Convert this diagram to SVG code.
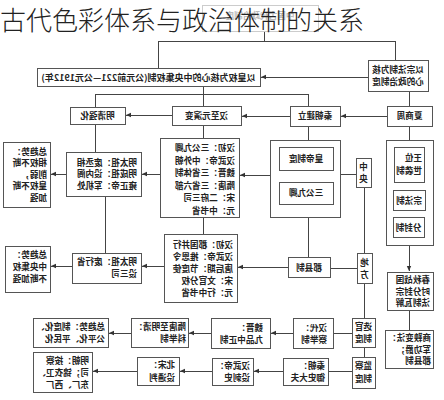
<svg xmlns="http://www.w3.org/2000/svg" width="444" height="400" viewBox="0 0 444 400">
<style>
.b{fill:#fff;stroke:#555;stroke-width:1}
.l{fill:none;stroke:#444;stroke-width:1}
.a{fill:none;stroke:#444;stroke-width:1;marker-end:url(#ah)}
.t{font-family:"Noto Sans CJK SC","Noto Sans CJK TC",sans-serif;font-size:8.6px;fill:#222;font-weight:bold}
.c{text-anchor:middle}
.title{font-family:"Noto Sans CJK SC","Noto Sans CJK TC",sans-serif;font-size:26px;fill:#222;font-weight:300}
</style>
<defs>
<marker id="ah" markerUnits="userSpaceOnUse" markerWidth="6" markerHeight="6" refX="5" refY="3" orient="auto">
<path d="M0,0.8 L5,3 L0,5.2 Z" fill="#333"/>
</marker>
</defs>
<rect width="444" height="400" fill="#fff"/>
<g transform="matrix(-1 0 0 1 444 0)" shape-rendering="crispEdges">
<g id="connectors">
<path class="l" d="M180,31 V41 M286,41 H49 M286,41 V68 M49,41 V60"/>
<path class="a" d="M76,77 H183"/>
<path class="l" d="M241,86 V106 M349,94 H136 M349,94 V107 M136,94 V106 M35,91 V106"/>
<path class="a" d="M57,116 H103"/>
<path class="a" d="M154,116 H202"/>
<path class="a" d="M272,115 H318"/>
<path class="l" d="M35,126 V140 M136,126 V140 M241,125 V138 M349,124 V152"/>
<path class="a" d="M174,175 H204"/>
<path class="a" d="M284,174 H302"/>
<path class="a" d="M378,174 H393"/>
<path class="l" d="M104,174 H88 M80,187 V253 M80,283 V318 M80,347 V357 M87,268 H114 M136,217 V257 M241,217 V234 M339,196 V253"/>
<path class="a" d="M156,267 H206"/>
<path class="a" d="M280,266 H302"/>
<path class="a" d="M372,266 H393"/>
<path class="l" d="M92,333 H111"/>
<path class="a" d="M151,333 H173"/>
<path class="a" d="M233,333 H255"/>
<path class="a" d="M313,333 H335"/>
<path class="l" d="M92,371 H116"/>
<path class="a" d="M161,371 H190"/>
<path class="a" d="M232,371 H264"/>
<path class="a" d="M307,371 H351"/>
<path class="a" d="M35,245 V271"/>
<path class="l" d="M35,310 V330"/>
</g>
<g id="n-top"><rect x="126" y="5" width="116" height="26" fill="#fff" stroke="#ccc"/><text class="t c" x="184" y="19" style="fill:#bbb">中国古代政治制度</text></g>
<g id="n-central"><rect class="b" x="184" y="68" width="223" height="18"/><text class="t c" x="295.5" y="80.5" style="font-size:9px">以皇权为核心的中央集权制(公元前221—公元1912年)</text></g>
<g id="n-zongfa"><rect class="b" x="16" y="60" width="60" height="31"/><text class="t c"><tspan x="46" y="73">以宗法制为核</tspan><tspan x="46" y="85">心的政治制度</tspan></text></g>
<g id="n-mingqing"><rect class="b" x="319" y="107" width="55" height="17"/><text class="t c" x="346.5" y="118.8">明清强化</text></g>
<g id="n-hanyuan"><rect class="b" x="203" y="106" width="69" height="19"/><text class="t c" x="237.5" y="118.8">汉至元演变</text></g>
<g id="n-qin"><rect class="b" x="104" y="106" width="50" height="20"/><text class="t c" x="129" y="119.3">秦朝建立</text></g>
<g id="n-xia"><rect class="b" x="12" y="106" width="45" height="20"/><text class="t c" x="34.5" y="119.3">夏商周</text></g>
<g id="n-ming1"><rect class="b" x="303" y="152" width="75" height="44"/><text class="t"><tspan x="307" y="165.5">明太祖：废丞相</tspan><tspan x="307" y="177">明成祖：设内阁</tspan><tspan x="307" y="188.5">雍正帝：军机处</tspan></text></g>
<g id="n-trend1"><rect class="b" x="394" y="142" width="47" height="65"/><text class="t"><tspan x="397" y="154.5">总趋势：</tspan><tspan x="397" y="166">相权不断</tspan><tspan x="397" y="177.5">削弱，</tspan><tspan x="397" y="189">皇权不断</tspan><tspan x="397" y="200.5">加强</tspan></text></g>
<g id="n-han1"><rect class="b" x="205" y="138" width="79" height="79"/><text class="t"><tspan x="209" y="151.3">汉初：三公九卿</tspan><tspan x="209" y="163.8">汉武帝：中外朝</tspan><tspan x="209" y="176.3">魏晋：三省体制</tspan><tspan x="209" y="188.8">隋唐：三省六部</tspan><tspan x="209" y="201.3">宋：二府三司</tspan><tspan x="209" y="213.8">元：中书省</tspan></text></g>
<g id="n-qinbox"><rect class="b" x="104" y="140" width="70" height="77"/><rect class="b" x="111" y="147" width="54" height="23"/><text class="t c" x="138" y="161.5">皇帝制度</text><rect class="b" x="111" y="182" width="54" height="22"/><text class="t c" x="138" y="196">三公九卿</text></g>
<g id="n-zhongyang"><rect class="b" x="73" y="158" width="15" height="29"/><text class="t c"><tspan x="80.5" y="169.5">中</tspan><tspan x="80.5" y="182">央</tspan></text></g>
<g id="n-xiabox"><rect class="b" x="11" y="140" width="47" height="105"/><rect class="b" x="20" y="147" width="30" height="35"/><text class="t"><tspan x="22" y="161">王位</tspan><tspan x="22" y="173.5">世袭制</tspan></text><rect class="b" x="19" y="190" width="32" height="20"/><text class="t c" x="35" y="203.5">宗法制</text><rect class="b" x="20" y="217" width="31" height="20"/><text class="t c" x="35.5" y="230.5">分封制</text></g>
<g id="n-ming2"><rect class="b" x="303" y="253" width="69" height="30"/><text class="t"><tspan x="307" y="265">明太祖：废行省</tspan><tspan x="307" y="277">设三司</tspan></text></g>
<g id="n-trend2"><rect class="b" x="394" y="246" width="45" height="46"/><text class="t"><tspan x="397" y="258">总趋势：</tspan><tspan x="397" y="270">中央集权</tspan><tspan x="397" y="282">不断加强</tspan></text></g>
<g id="n-han2"><rect class="b" x="207" y="234" width="73" height="68"/><text class="t"><tspan x="211" y="248">汉初：郡国并行</tspan><tspan x="211" y="260">汉武帝：推恩令</tspan><tspan x="211" y="272">唐后期：节度使</tspan><tspan x="211" y="284">宋：文官分权</tspan><tspan x="211" y="296">元：行中书省</tspan></text></g>
<g id="n-junxian"><rect class="b" x="114" y="257" width="42" height="20"/><text class="t c" x="135" y="270.5">郡县制</text></g>
<g id="n-difang"><rect class="b" x="72" y="253" width="15" height="30"/><text class="t c"><tspan x="79.5" y="265.5">地</tspan><tspan x="79.5" y="277.5">方</tspan></text></g>
<g id="n-chunqiu"><rect class="b" x="11" y="272" width="46" height="38"/><text class="t"><tspan x="14" y="283">春秋战国</tspan><tspan x="14" y="294.5">时分封宗</tspan><tspan x="14" y="306">法制瓦解</tspan></text></g>
<g id="n-shangyang"><rect class="b" x="11" y="330" width="48" height="38"/><text class="t"><tspan x="13" y="341">商鞅变法：</tspan><tspan x="13" y="352.5">军功爵；</tspan><tspan x="13" y="364">郡县制</tspan></text></g>
<g id="n-xuanguan"><rect class="b" x="69" y="318" width="23" height="29"/><text class="t c"><tspan x="80.5" y="330">选官</tspan><tspan x="80.5" y="342">制度</tspan></text></g>
<g id="n-handai"><rect class="b" x="111" y="318" width="40" height="30"/><text class="t"><tspan x="117" y="330.5">汉代：</tspan><tspan x="117" y="342.5">察举制</tspan></text></g>
<g id="n-weijin"><rect class="b" x="174" y="318" width="59" height="30"/><text class="t"><tspan x="181" y="330.5">魏晋：</tspan><tspan x="181" y="342.5">九品中正制</tspan></text></g>
<g id="n-suitang"><rect class="b" x="256" y="318" width="57" height="29"/><text class="t"><tspan x="258" y="329.5">隋唐至明清：</tspan><tspan x="258" y="341.5">科举制</tspan></text></g>
<g id="n-trend3"><rect class="b" x="336" y="318" width="75" height="29"/><text class="t"><tspan x="339" y="329.5">总趋势：制度化、</tspan><tspan x="339" y="341.5">公平化、平民化</tspan></text></g>
<g id="n-jiancha"><rect class="b" x="69" y="357" width="23" height="31"/><text class="t c"><tspan x="80.5" y="369">监察</tspan><tspan x="80.5" y="381.5">制度</tspan></text></g>
<g id="n-qinchao"><rect class="b" x="116" y="358" width="45" height="27"/><text class="t"><tspan x="119" y="368.5">秦朝：</tspan><tspan x="119" y="380.5">御史大夫</tspan></text></g>
<g id="n-hanwu"><rect class="b" x="191" y="358" width="41" height="27"/><text class="t"><tspan x="194" y="368.5">汉武帝：</tspan><tspan x="194" y="381">设刺史</tspan></text></g>
<g id="n-beisong"><rect class="b" x="265" y="357" width="42" height="28"/><text class="t"><tspan x="269" y="367.5">北宋：</tspan><tspan x="269" y="380.5">设通判</tspan></text></g>
<g id="n-mingchao"><rect class="b" x="352" y="352" width="59" height="40"/><text class="t"><tspan x="355" y="363.5">明朝：按察</tspan><tspan x="355" y="375.5">司；锦衣卫、</tspan><tspan x="355" y="387.5">东厂、西厂</tspan></text></g>
</g>
<text class="title" x="0" y="30">古代色彩体系与政治体制的关系</text>
</svg>
